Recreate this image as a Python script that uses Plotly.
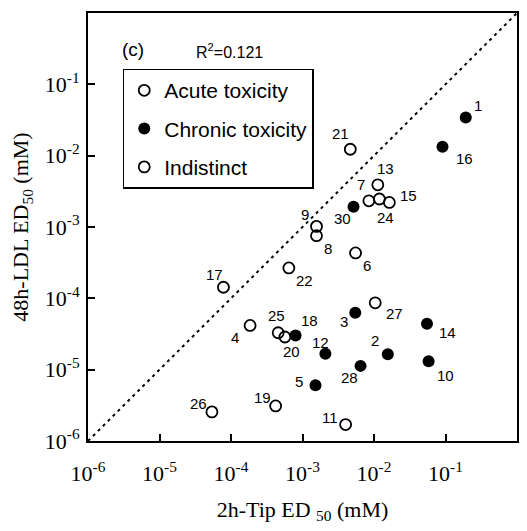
import numpy as np
import plotly.graph_objects as go

# ---- data ----
ids = ["1", "2", "3", "4", "5", "6", "7", "8", "9", "10", "11", "12", "13", "14",
       "15", "16", "17", "18", "19", "20", "21", "22", "24", "25", "26", "27", "28", "30"]
tip_ed50 = [0.192, 0.0156, 0.00547, 1.85e-4, 0.00152, 0.00552, 0.00848, 0.00157, 0.00157,
            0.058, 0.00401, 0.00209, 0.0113, 0.0551, 0.0164, 0.0908, 7.84e-5, 8.0e-4,
            4.21e-4, 5.67e-4, 0.00466, 6.44e-4, 0.0119, 4.57e-4, 5.41e-5, 0.0104,
            0.00649, 0.00517]
ldl_ed50 = [0.0342, 1.64e-5, 6.27e-5, 4.17e-5, 6.04e-6, 4.33e-4, 0.00233, 7.56e-4, 0.00102,
            1.31e-5, 1.7e-6, 1.67e-5, 0.0039, 4.4e-5, 0.00221, 0.0133, 1.43e-4, 3.02e-5,
            3.1e-6, 2.87e-5, 0.0123, 2.67e-4, 0.00247, 3.29e-5, 2.56e-6, 8.65e-5,
            1.13e-5, 0.00192]
tox_type = ["C", "C", "C", "A", "C", "A", "A", "A", "A", "C", "A", "C", "A", "C",
            "A", "C", "A", "C", "A", "A", "A", "A", "A", "A", "A", "A", "C", "C"]
r2_text = "R<sup>2</sup>=0.121"
panel_label = "(c)"

# label offsets in pixels (dx right, dy down) -- styling only
label_offsets = {
    "1": (12, -12), "2": (-13, -14), "3": (-11, 9), "4": (-15, 12), "5": (-17, -4),
    "6": (11, 13), "7": (-8, -16), "8": (11, 13), "9": (-12, -12), "10": (17, 14),
    "11": (-16, -7), "12": (-5, -11), "13": (8, -16), "14": (21, 9), "15": (19, -7),
    "16": (22, 12), "17": (-9, -13), "18": (14, -15), "19": (-13, -8), "20": (7, 14),
    "21": (-10, -16), "22": (16, 13), "24": (6, 19), "25": (-2, -17), "26": (-13, -8),
    "27": (19, 11), "28": (-11, 12), "30": (-11, 12),
}

fig = go.Figure()

# identity line
fig.add_trace(go.Scatter(x=[1e-6, 1], y=[1e-6, 1], mode="lines",
                         line=dict(color="black", width=2, dash="3px,4px"),
                         showlegend=False, hoverinfo="skip"))

ax = [x for x, t in zip(tip_ed50, tox_type) if t == "A"]
ay = [y for y, t in zip(ldl_ed50, tox_type) if t == "A"]
cx = [x for x, t in zip(tip_ed50, tox_type) if t == "C"]
cy = [y for y, t in zip(ldl_ed50, tox_type) if t == "C"]

fig.add_trace(go.Scatter(x=ax, y=ay, mode="markers", name="Acute toxicity",
                         legendgroup="a",
                         marker=dict(symbol="circle-open", size=11, color="black",
                                     line=dict(width=1.8, color="black"))))
fig.add_trace(go.Scatter(x=cx, y=cy, mode="markers", name="Chronic toxicity",
                         legendgroup="c",
                         marker=dict(symbol="circle", size=12, color="black")))
fig.add_trace(go.Scatter(x=[None], y=[None], mode="markers", name="Indistinct",
                         legendgroup="i",
                         marker=dict(symbol="circle-open", size=11, color="black",
                                     line=dict(width=1.8, color="black"))))

annotations = []
for i, x, y in zip(ids, tip_ed50, ldl_ed50):
    dx, dy = label_offsets[i]
    annotations.append(dict(x=np.log10(x), y=np.log10(y), xref="x", yref="y",
                            text=i, showarrow=False, xshift=dx, yshift=-dy,
                            font=dict(family="Liberation Sans, Arial", size=15, color="black")))

annotations.append(dict(x=0.074, y=0.943, xref="paper", yref="paper", text=panel_label,
                        showarrow=False,
                        font=dict(family="Liberation Sans, Arial", size=19, color="black")))
annotations.append(dict(x=0.248, y=0.94, xref="paper", yref="paper", text=r2_text,
                        showarrow=False,
                        font=dict(family="Liberation Sans, Arial", size=16, color="black")))

tickvals = [1e-6, 1e-5, 1e-4, 1e-3, 1e-2, 1e-1, 1]
ticktext = ["10<sup>-6</sup>", "10<sup>-5</sup>", "10<sup>-4</sup>", "10<sup>-3</sup>",
            "10<sup>-2</sup>", "10<sup>-1</sup>", "10<sup>0</sup>"]

axis_common = dict(type="log", range=[-6, 0], showgrid=False, zeroline=False,
                   showline=True, linecolor="black", linewidth=2, mirror=True,
                   ticks="inside", ticklen=7, tickwidth=1.5, tickcolor="black",
                   tickvals=tickvals, ticktext=ticktext,
                   tickfont=dict(family="Liberation Serif, Times New Roman", size=22, color="black"))

fig.update_layout(
    width=527, height=531,
    margin=dict(l=88, r=8, t=13, b=90),
    paper_bgcolor="white", plot_bgcolor="white",
    xaxis=dict(**axis_common, ticklabelstandoff=12,
               title=dict(text="2h-Tip ED <sub>50</sub> (mM)", standoff=16,
                          font=dict(family="Liberation Serif, Times New Roman", size=22, color="black"))),
    yaxis=dict(**axis_common, ticklabelstandoff=2,
               title=dict(text="48h-LDL ED<sub>50</sub> (mM)", standoff=10,
                          font=dict(family="Liberation Serif, Times New Roman", size=22, color="black"))),
    legend=dict(x=0.081, y=0.87, xanchor="left", yanchor="top",
                bordercolor="black", borderwidth=1.5, bgcolor="white",
                font=dict(family="Liberation Sans, Arial", size=21, color="black"),
                tracegroupgap=8, traceorder="grouped"),
    annotations=annotations,
    showlegend=True,
)

fig.write_html("out.html")
